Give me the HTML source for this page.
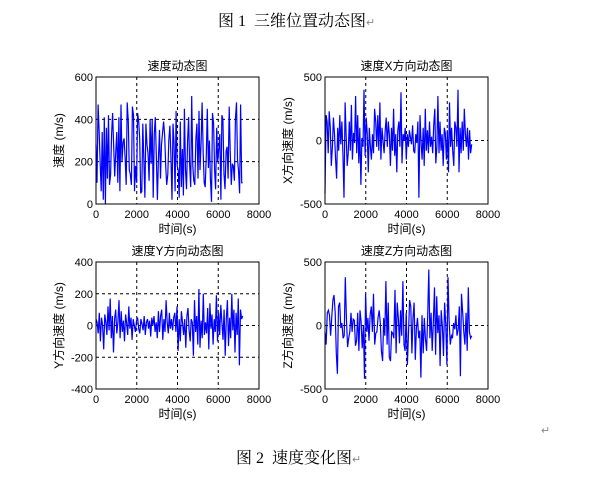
<!DOCTYPE html>
<html><head><meta charset="utf-8"><style>
body{margin:0;background:#fff;width:603px;height:480px;overflow:hidden;position:relative;font-family:"Liberation Sans","Noto Sans CJK SC",sans-serif}
.cap{position:absolute;font-family:"Liberation Serif","Noto Serif CJK SC",serif;font-size:16px;color:#000;white-space:nowrap}
.ret{color:#888;font-size:11px}
svg{position:absolute;left:0;top:0}
</style></head><body>
<div class="cap" style="left:218px;top:8px">图 1&nbsp; 三维位置动态图<span class="ret">↵</span></div>
<div class="cap" style="left:236px;top:445px">图 2&nbsp; 速度变化图<span class="ret">↵</span></div>
<div class="ret" style="position:absolute;left:541px;top:424px">↵</div>
<svg id="fig" width="603" height="480"></svg>
<script>
const xTicks=[0,2000,4000,6000,8000];
const speedVals=[280,100,470,350,190,60,340,20,410,0,360,120,420,90,140,330,430,270,130,250,340,100,410,60,470,200,290,310,220,90,480,390,160,140,90,460,420,60,180,100,430,390,310,50,60,380,200,30,380,280,240,110,400,190,400,30,330,410,230,20,210,350,120,280,340,390,320,180,90,140,300,370,230,20,380,290,60,440,180,160,30,390,80,260,40,450,160,70,300,410,190,80,510,180,110,90,310,380,120,440,160,290,480,240,100,80,230,450,170,300,120,10,430,380,160,70,360,200,260,330,20,420,400,140,70,250,270,120,460,250,90,190,180,110,400,480,210,160,50,470,100,100];
const vxVals=[-420,200,150,-100,230,100,-200,-50,180,50,-150,-300,100,-80,200,-30,150,-100,-450,300,50,-200,-100,150,-80,280,-150,60,-20,350,-100,200,-180,100,-350,20,-50,400,-120,180,60,-250,100,-50,-150,50,-100,250,150,-50,200,-80,300,-150,100,0,-100,80,180,-50,150,40,-200,100,-80,250,-120,50,-250,80,150,-50,380,-180,50,0,100,-150,50,-50,80,20,-30,120,-80,-100,50,-20,150,-450,200,0,-150,100,-200,250,-80,80,-100,150,-50,30,-100,120,250,-180,-50,350,-100,150,-80,50,-200,100,60,-150,80,-250,300,-50,100,-80,-200,150,100,-50,400,-250,100,-100,150,-80,250,50,-50,100,-150,80,-100,-30];
const vyVals=[40,20,-50,80,-100,50,0,-150,70,20,-60,120,-30,170,-80,60,-170,40,100,-50,20,160,-80,90,-40,30,-100,70,10,-60,120,-20,50,-90,40,0,-40,30,50,-20,-50,40,10,-30,60,-60,20,40,-20,30,-70,50,0,60,-40,20,-80,90,-40,60,100,-90,40,-40,160,20,-50,80,-20,40,-30,50,80,-40,120,-160,40,-100,90,20,-60,40,-140,60,110,-30,-100,40,20,-190,160,-40,60,-120,230,-140,30,-80,200,-60,20,-50,110,-150,140,-20,70,-120,40,-40,190,-100,80,-60,130,20,-90,100,-190,40,160,-130,50,-80,200,-30,100,-170,80,-60,170,-250,100,40,60];
const vzVals=[-50,-150,100,120,80,-80,70,200,240,100,-220,-380,150,180,-20,20,-100,-80,380,60,-170,-100,-50,100,-50,50,40,-160,-120,100,-200,120,30,-180,0,-420,250,-50,60,-120,80,150,-50,250,-150,-60,-50,60,120,20,-200,-280,60,-80,350,-150,180,-250,-280,-50,-60,-100,280,-220,180,50,-140,120,-80,350,-150,-200,100,-310,-60,200,150,-220,60,180,-270,-20,60,-100,-40,-410,80,-220,60,-100,-200,80,440,-100,100,-200,20,300,-230,230,-60,80,-320,120,-10,-240,180,20,-310,380,40,-150,-80,-100,20,-30,80,-80,-30,150,-400,250,100,-50,-150,100,-200,300,-50,-100,-80];
const charts=[
 {name:'speed',title:'速度动态图',ylab:'速度 (m/s)',vals:speedVals,ymin:0,ymax:600,yTicks:[0,200,400,600],x0:96,x1:259,y0:77,y1:204,xl:true},
 {name:'vx',title:'速度X方向动态图',ylab:'X方向速度 (m/s)',vals:vxVals,ymin:-500,ymax:500,yTicks:[-500,0,500],x0:325,x1:488,y0:77,y1:204,xl:true},
 {name:'vy',title:'速度Y方向动态图',ylab:'Y方向速度 (m/s)',vals:vyVals,ymin:-400,ymax:400,yTicks:[-400,-200,0,200,400],x0:96,x1:259,y0:262,y1:389,xl:true},
 {name:'vz',title:'速度Z方向动态图',ylab:'Z方向速度 (m/s)',vals:vzVals,ymin:-500,ymax:500,yTicks:[-500,0,500],x0:325,x1:488,y0:262,y1:389,xl:true}];
const svg=document.getElementById('fig');const NS='http://www.w3.org/2000/svg';
function mk(t,a,p){const e=document.createElementNS(NS,t);for(const k in a)e.setAttribute(k,a[k]);(p||svg).appendChild(e);return e;}
charts.forEach(c=>{
 const g=mk('g',{});
 
 
 const sx=v=>c.x0+(v-0)/8000*(c.x1-c.x0);
 const sy=v=>c.y1-(v-c.ymin)/(c.ymax-c.ymin)*(c.y1-c.y0);
 mk('rect',{x:c.x0,y:c.y0,width:c.x1-c.x0,height:c.y1-c.y0,fill:'#fff',stroke:'none'},g);
 xTicks.forEach(t=>{if(t>0&&t<8000){const l=mk('line',{x1:sx(t),x2:sx(t),y1:c.y0,y2:c.y1,stroke:'#000','stroke-dasharray':'3,3','stroke-width':1},g);}});
 c.yTicks.forEach(t=>{if(t>c.ymin&&t<c.ymax){const l=mk('line',{x1:c.x0,x2:c.x1,y1:sy(t),y2:sy(t),stroke:'#000','stroke-dasharray':'3,3','stroke-width':1},g);}});
 const n=c.vals.length;const pts=c.vals.map((v,i)=>sx(i*7200/(n-1)).toFixed(1)+','+sy(v).toFixed(1)).join(' ');
 const pl=mk('polyline',{points:pts,fill:'none',stroke:'#0000ff','stroke-width':1.2},g);
 
 
 mk('rect',{x:c.x0,y:c.y0,width:c.x1-c.x0,height:c.y1-c.y0,fill:'none',stroke:'#000','stroke-width':1},g);
 xTicks.forEach(t=>{const tx=mk('text',{x:sx(t),y:c.y1+14,'text-anchor':'middle','font-size':11},g);tx.textContent=t;});
 c.yTicks.forEach(t=>{const tx=mk('text',{x:c.x0-3,y:sy(t)+4,'text-anchor':'end','font-size':11},g);tx.textContent=t;});
 const ti=mk('text',{x:(c.x0+c.x1)/2,y:c.y0-7,'text-anchor':'middle','font-size':12},g);ti.textContent=c.title;
 
 
 const xl=mk('text',{x:(c.x0+c.x1)/2,y:c.y1+29,'text-anchor':'middle','font-size':12},g);xl.textContent='时间(s)';
 
 
 const yx=c.x0-(c.ymin<0?33:33),yy=(c.y0+c.y1)/2;
 const yl=mk('text',{x:yx,y:yy,'text-anchor':'middle','font-size':12,transform:`rotate(-90 ${yx} ${yy})`},g);yl.textContent=c.ylab;
 
 
});
</script></body></html>
